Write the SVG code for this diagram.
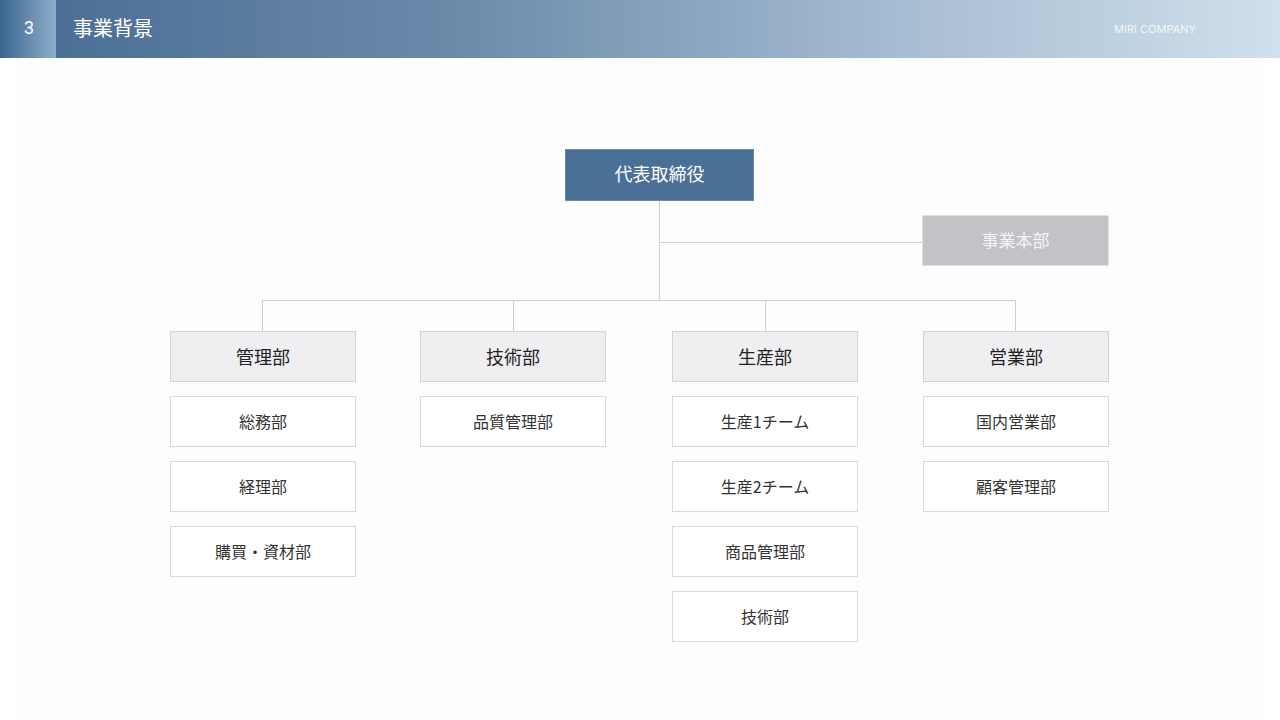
<svg xmlns="http://www.w3.org/2000/svg" width="1280" height="720" viewBox="0 0 1280 720">
<defs>
<linearGradient id="hdr" x1="0" y1="0" x2="1" y2="0">
<stop offset="0" stop-color="#486b92"/>
<stop offset="0.35" stop-color="#6a8aaa"/>
<stop offset="0.7" stop-color="#a6bcd2"/>
<stop offset="1" stop-color="#d0e0ec"/>
</linearGradient>
<linearGradient id="num" x1="0" y1="0" x2="1" y2="0">
<stop offset="0" stop-color="#3b6690"/>
<stop offset="1" stop-color="#8eaeca"/>
</linearGradient>
<style>
.lbl{font-family:"Noto Sans CJK JP","Noto Sans",sans-serif;text-anchor:middle;dominant-baseline:central}
.dept rect{fill:#efeef1;stroke:#d3d2d6;stroke-width:1}
.dept text{font-size:18px;fill:#222}
.sub rect{fill:#ffffff;stroke:#d9d9dd;stroke-width:1}
.sub text{font-size:16px;fill:#333}
.conn line{stroke:#cfcfd3;stroke-width:1}
</style>
</defs>
<rect width="1280" height="720" fill="#ffffff"/>
<rect x="16" y="58" width="1248" height="662" fill="#fdfdfe"/>
<g id="header">
<rect x="0" y="0" width="1280" height="58" fill="url(#hdr)"/>
<rect x="0" y="0" width="56" height="58" fill="url(#num)"/>
<text x="29" y="27" font-family="Roboto,'Noto Sans',sans-serif" font-size="18" fill="#ffffff" text-anchor="middle" dominant-baseline="central">3</text>
<text x="73" y="27" class="lbl" font-size="20" fill="#ffffff" style="text-anchor:start">事業背景</text>
<text x="1155" y="29" font-family="Inter,'Noto Sans',sans-serif" font-size="11" fill="#f2f6fa" text-anchor="middle" dominant-baseline="central">MIRI COMPANY</text>
</g>
<g id="connectors" class="conn">
<line x1="659.5" y1="200" x2="659.5" y2="300"/>
<line x1="659.5" y1="242.5" x2="922" y2="242.5"/>
<line x1="262" y1="300.5" x2="1016" y2="300.5"/>
<line x1="262.5" y1="300" x2="262.5" y2="331"/>
<line x1="513.5" y1="300" x2="513.5" y2="331"/>
<line x1="765.5" y1="300" x2="765.5" y2="331"/>
<line x1="1015.5" y1="300" x2="1015.5" y2="331"/>
</g>
<g id="ceo">
<rect x="565.5" y="149.5" width="188" height="51" fill="#4a7096" stroke="#6a88a8" stroke-width="1"/>
<text x="659.5" y="173" class="lbl" font-size="18" fill="#ffffff">代表取締役</text>
</g>
<g id="jigyo-honbu">
<rect x="922.5" y="215.5" width="186" height="50" fill="#c3c2c6"/>
<text x="1015.5" y="239.5" class="lbl" font-size="17" fill="#f4f4f6">事業本部</text>
</g>
<g id="kanri" class="dept"><rect x="170.5" y="331.5" width="185" height="50"/><text x="263" y="355.5" class="lbl">管理部</text></g>
<g id="gijutsu" class="dept"><rect x="420.5" y="331.5" width="185" height="50"/><text x="513" y="355.5" class="lbl">技術部</text></g>
<g id="seisan" class="dept"><rect x="672.5" y="331.5" width="185" height="50"/><text x="765" y="355.5" class="lbl">生産部</text></g>
<g id="eigyo" class="dept"><rect x="923.5" y="331.5" width="185" height="50"/><text x="1016" y="355.5" class="lbl">営業部</text></g>
<g id="somu" class="sub"><rect x="170.5" y="396.5" width="185" height="50"/><text x="263" y="420.5" class="lbl">総務部</text></g>
<g id="keiri" class="sub"><rect x="170.5" y="461.5" width="185" height="50"/><text x="263" y="485.5" class="lbl">経理部</text></g>
<g id="kobai" class="sub"><rect x="170.5" y="526.5" width="185" height="50"/><text x="263" y="550.5" class="lbl">購買・資材部</text></g>
<g id="hinshitsu" class="sub"><rect x="420.5" y="396.5" width="185" height="50"/><text x="513" y="420.5" class="lbl">品質管理部</text></g>
<g id="seisan1" class="sub"><rect x="672.5" y="396.5" width="185" height="50"/><text x="765" y="420.5" class="lbl">生産1チーム</text></g>
<g id="seisan2" class="sub"><rect x="672.5" y="461.5" width="185" height="50"/><text x="765" y="485.5" class="lbl">生産2チーム</text></g>
<g id="shohin" class="sub"><rect x="672.5" y="526.5" width="185" height="50"/><text x="765" y="550.5" class="lbl">商品管理部</text></g>
<g id="gijutsu2" class="sub"><rect x="672.5" y="591.5" width="185" height="50"/><text x="765" y="615.5" class="lbl">技術部</text></g>
<g id="kokunai" class="sub"><rect x="923.5" y="396.5" width="185" height="50"/><text x="1016" y="420.5" class="lbl">国内営業部</text></g>
<g id="kokyaku" class="sub"><rect x="923.5" y="461.5" width="185" height="50"/><text x="1016" y="485.5" class="lbl">顧客管理部</text></g>
</svg>
